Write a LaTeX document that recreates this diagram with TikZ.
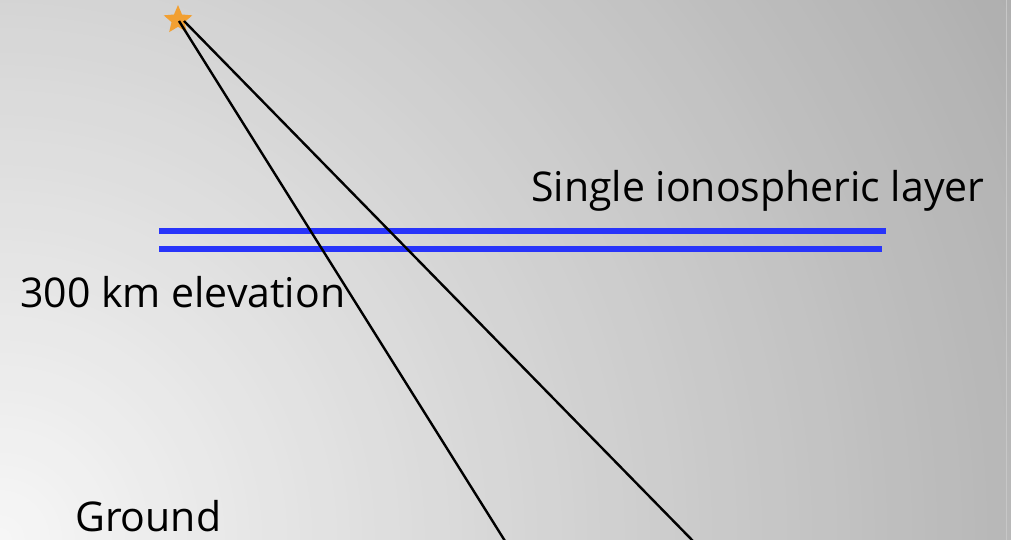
\documentclass[tikz,border=0pt]{standalone}
\usepackage{fontspec}
\setmainfont{Open Sans}
\usetikzlibrary{shapes.geometric}
\definecolor{layerblue}{RGB}{40,52,250}
\definecolor{starorange}{RGB}{242,160,50}
\tikzset{
  label/.style={font=\fontsize{41}{48}\selectfont, inner sep=0pt, anchor=base west, text=black},
  layer/.style={draw=layerblue, line width=6pt},
  ray/.style={draw=black, line width=2.4pt},
}
\begin{document}
\begin{tikzpicture}[x=1pt,y=-1pt]
\useasboundingbox (0,0) rectangle (1011,540);
\begin{scope}
  \clip (0,0) rectangle (1011,540);
  \fill[black!32] (0,0) rectangle (1011,540);
  \foreach \i in {0,...,99} {
    \pgfmathsetmacro{\r}{1250-12.5*\i}
    \pgfmathsetmacro{\g}{0.967-0.000245*\r}
    \definecolor{bgtmp}{gray}{\g}
    \fill[bgtmp] (0,540) circle (\r);
  }
  \draw[white!78!black, line width=1.5pt] (1006.5,0) -- (1006.5,540);
\end{scope}
\coordinate (l1a) at (159,230.5);
\coordinate (l1b) at (886,230.5);
\coordinate (l2a) at (159,248.5);
\coordinate (l2b) at (882,248.5);
\draw[layer] (l1a) -- (l1b);
\draw[layer] (l2a) -- (l2b);
\node[star, star points=5, star point ratio=2.2, fill=starorange, inner sep=0pt, minimum size=30pt] (star) at (178,20) {};
\coordinate (s1) at (179,21);
\coordinate (s2) at (184,21);
\coordinate (g1) at (505,541);
\coordinate (g2) at (693,541);
\draw[ray] (s1) -- (g1);
\draw[ray] (s2) -- (g2);
\node[label] (lay) at (531,201) {Single ionospheric layer};
\node[label] (elev) at (20,307) {300 km elevation};
\node[label] (gnd) at (75,531) {Ground};
\end{tikzpicture}
\end{document}
